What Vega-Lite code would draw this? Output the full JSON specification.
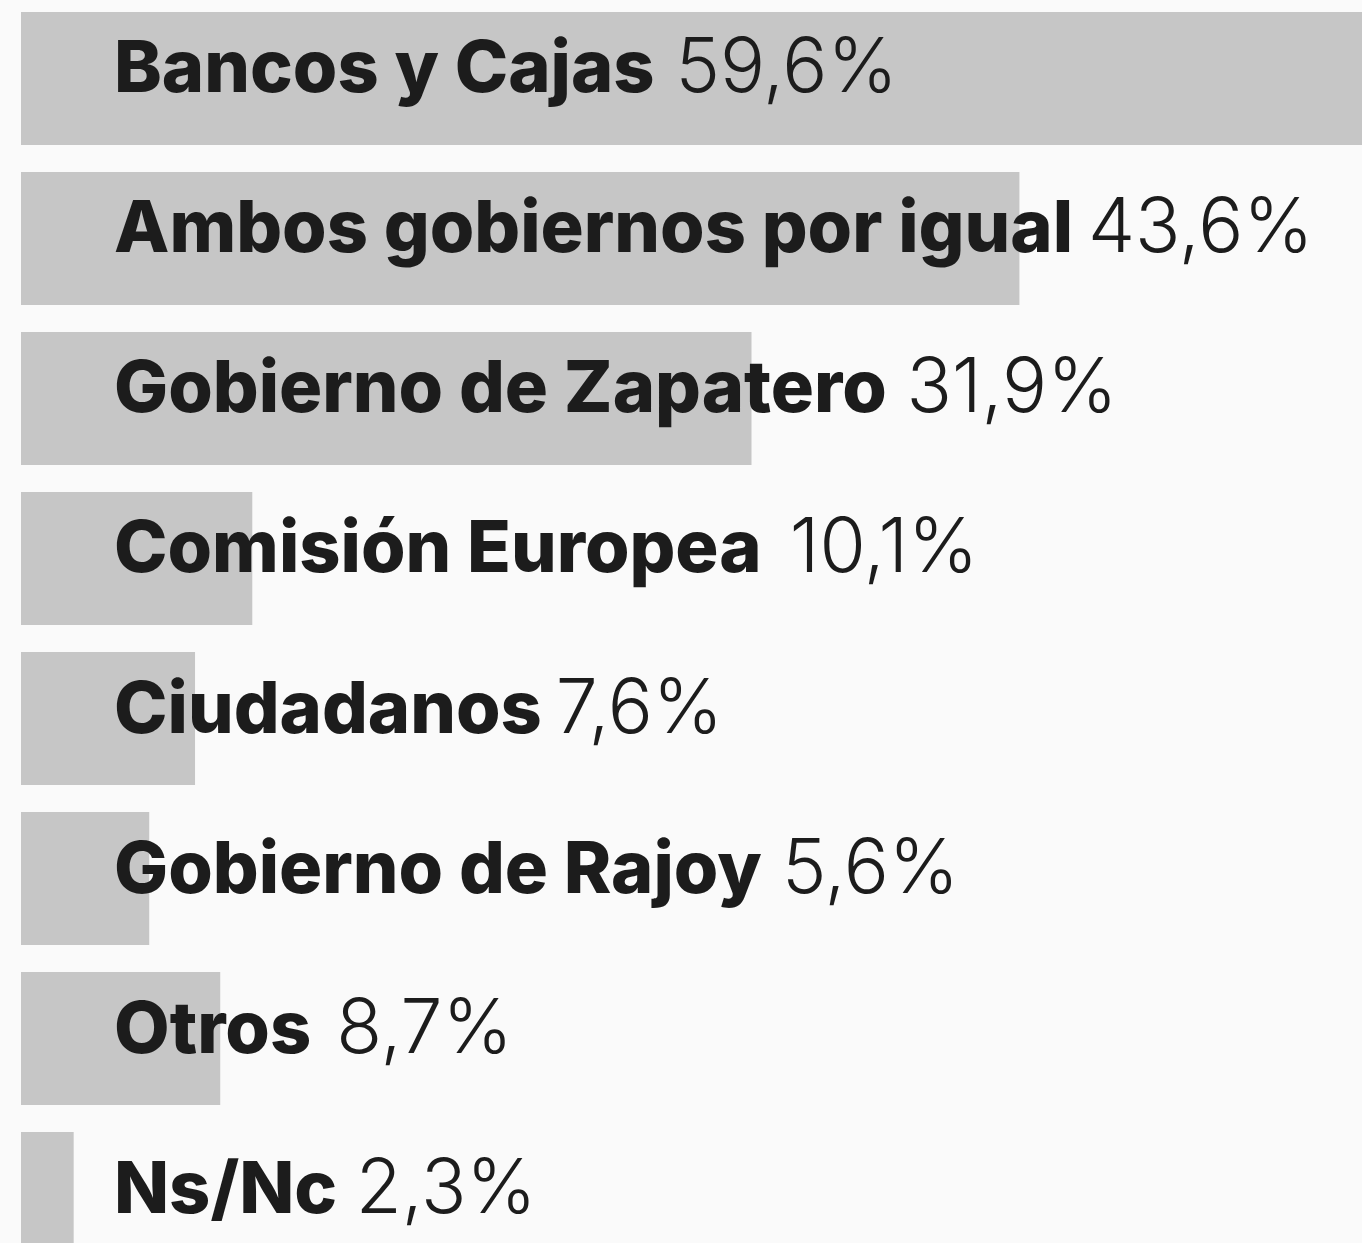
{
  "$schema": "https://vega.github.io/schema/vega-lite/v6.json",
  "width": 1362,
  "height": 1277,
  "padding": 0,
  "autosize": {"type": "none"},
  "background": "#fafafa",
  "config": {"view": {"stroke": null}},
  "data": {
    "values": [
      {"label": "Bancos y Cajas", "value": 59.6, "pct": "59,6%"},
      {"label": "Ambos gobiernos por igual", "value": 43.6, "pct": "43,6%"},
      {"label": "Gobierno de Zapatero", "value": 31.9, "pct": "31,9%"},
      {"label": "Comisión Europea", "value": 10.1, "pct": "10,1%"},
      {"label": "Ciudadanos", "value": 7.6, "pct": "7,6%"},
      {"label": "Gobierno de Rajoy", "value": 5.6, "pct": "5,6%"},
      {"label": "Otros", "value": 8.7, "pct": "8,7%"},
      {"label": "Ns/Nc", "value": 2.3, "pct": "2,3%"}
    ]
  },
  "transform": [
    {"calculate": "length(datum.label)", "as": "nAll"},
    {"calculate": "datum.nAll - length(replace(datum.label, regexp('[ijl ]', 'g'), ''))", "as": "nS1"},
    {"calculate": "datum.nAll - length(replace(datum.label, regexp('[rtI/]', 'g'), ''))", "as": "nS2"},
    {"calculate": "datum.nAll - length(replace(datum.label, regexp('[acesy]', 'g'), ''))", "as": "nM"},
    {"calculate": "datum.nAll - length(replace(datum.label, regexp('[mw]', 'g'), ''))", "as": "nW"},
    {"calculate": "datum.nAll - length(replace(datum.label, regexp('[A-HJ-Z]', 'g'), ''))", "as": "nU"},
    {"calculate": "72 * (0.27 * datum.nS1 + 0.41 * datum.nS2 + 0.56 * datum.nM + 0.94 * datum.nW + 0.74 * datum.nU + 0.62 * (datum.nAll - datum.nS1 - datum.nS2 - datum.nM - datum.nW - datum.nU))", "as": "labelW"},
    {"calculate": "(93 + datum.labelW + 25) / 22.9", "as": "pctX"}
  ],
  "encoding": {
    "y": {
      "field": "label",
      "type": "nominal",
      "sort": null,
      "axis": null,
      "scale": {"paddingInner": 0.169, "paddingOuter": 0.075}
    }
  },
  "layer": [
    {
      "mark": {"type": "bar", "color": "#c6c6c6", "clip": true},
      "encoding": {
        "x": {"field": "value", "type": "quantitative", "axis": null, "scale": {"domain": [-0.917, 58.56], "nice": false, "zero": false}}
      }
    },
    {
      "mark": {"type": "text", "align": "left", "baseline": "alphabetic", "dx": 93, "dy": 14, "font": "Inter", "fontWeight": 800, "fontSize": 72, "color": "#1c1c1c"},
      "encoding": {
        "x": {"datum": 0, "type": "quantitative"},
        "text": {"field": "label"}
      }
    },
    {
      "mark": {"type": "text", "align": "left", "baseline": "alphabetic", "dy": 14, "font": "Inter", "fontWeight": 300, "fontSize": 75, "color": "#1c1c1c"},
      "encoding": {
        "x": {"field": "pctX", "type": "quantitative"},
        "text": {"field": "pct"}
      }
    }
  ]
}
